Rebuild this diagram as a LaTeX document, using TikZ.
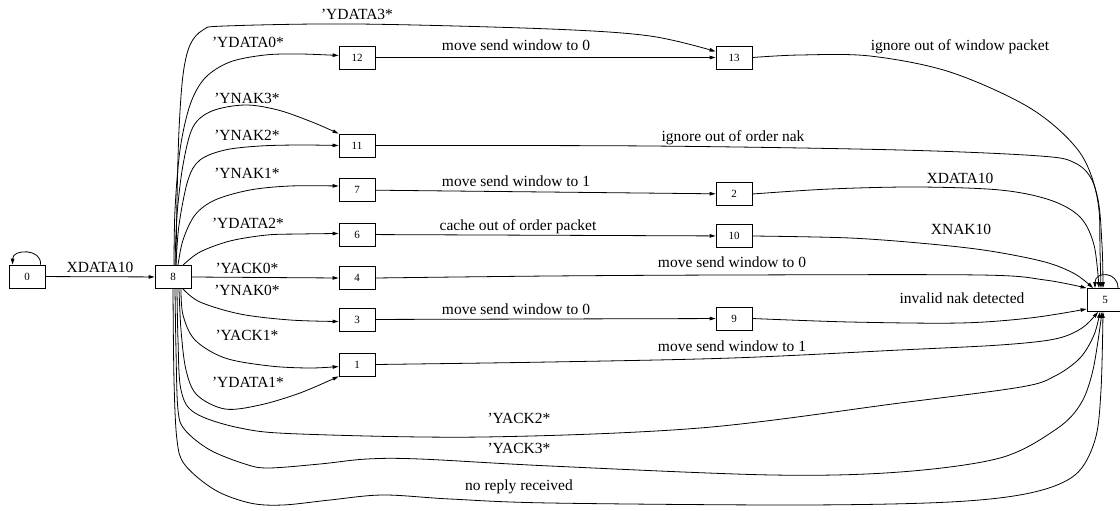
\documentclass[tikz,border=0pt]{standalone}
\usepackage{fontspec}
\setmainfont{Liberation Serif}
\usetikzlibrary{arrows.meta}
\tikzset{
  st/.style={draw, line width=0.8pt, minimum width=36pt, minimum height=23pt, inner sep=0pt, font=\fontsize{11}{12}\selectfont},
  lbl/.style={anchor=base, inner sep=0pt, font=\fontsize{15.5}{17}\selectfont},
  arr/.style={line width=0.8pt, -{Triangle[length=6pt,width=3.5pt]}},
  sm/.style={smooth, tension=0.55}
}
\begin{document}
\begin{tikzpicture}[x=1pt,y=-1pt]
\useasboundingbox (0,0) rectangle (1120,511);
% nodes
\node[st] (n0) at (27,276.5) {0};
\node[st] (n8) at (173,277) {8};
\node[st] (n12) at (357,57.5) {12};
\node[st] (n13) at (734,57.5) {13};
\node[st] (n11) at (357,145.5) {11};
\node[st] (n7) at (357,190) {7};
\node[st] (n2) at (734,194) {2};
\node[st] (n6) at (357,234.5) {6};
\node[st] (n10) at (734,236) {10};
\node[st] (n4) at (357,278) {4};
\node[st] (n3) at (357,319.5) {3};
\node[st] (n9) at (734,318.5) {9};
\node[st] (n1) at (357,364.5) {1};
\node[st] (n5) at (1105,300) {5};
% self loops
\draw[arr] ([xshift=-5pt]n0.north east) .. controls +(2,-16) and +(0,-16) .. ([xshift=4pt]n0.north west);
\draw[arr] ([xshift=13pt]n5.north) .. controls +(0,-17) and +(0,-17) .. ([xshift=-10pt]n5.north);
% straight edges
\draw[arr] (n0) -- (n8);
\draw[arr] (n8.east) -- (n4.west);
\draw[arr] (n12) -- (n13);
\draw[arr] (n7) -- (n2);
\draw[arr] (n6) -- (n10);
\draw[arr] (n3) -- (n9);
% from 8, upwards
\draw[arr] plot[sm] coordinates {([xshift=3pt]n8.north) (177,200) (179,130) (183,75) (190,45) (203,30) (225,26) (357,24) (550,29) (650,36) ([yshift=6pt]n13.west)};
\draw[arr] plot[sm] coordinates {([xshift=1pt]n8.north) (175,210) (180,150) (190,105) (205,78) (230,62) (265,55) (300,54) ([yshift=2pt]n12.west)};
\draw[arr] plot[sm] coordinates {([xshift=2pt]n8.north) (177,215) (183,165) (193,127) (212,111) (245,105) (278,110) (312,122) (n11.north west)};
\draw[arr] plot[sm] coordinates {([xshift=3pt]n8.north) (179,225) (188,180) (200,160) (225,150) (260,146) (300,145) (n11.west)};
\draw[arr] plot[sm] coordinates {([xshift=5pt]n8.north) (183,240) (195,215) (215,200) (250,190) (290,186) ([yshift=4pt]n7.west)};
\draw[arr] plot[sm] coordinates {([xshift=10pt]n8.north) (200,252) (230,241) (267,235) (300,234) ([yshift=1pt]n6.west)};
% from 8, downwards
\draw[arr] plot[sm] coordinates {([xshift=10pt]n8.south) (200,302) (240,314) (290,320) ([yshift=-2pt]n3.west)};
\draw[arr] plot[sm] coordinates {([xshift=8pt]n8.south) (183,315) (195,340) (225,358) (270,366) (310,368) ([yshift=-2pt]n1.west)};
\draw[arr] plot[sm] coordinates {([xshift=6pt]n8.south) (181,330) (186,370) (197,395) (225,409) (260,405) (300,393) (n1.south west)};
\draw[arr] plot[sm] coordinates {([xshift=4pt]n8.south) (178,340) (181,390) (195,413) (240,428) (300,434) (483,437) (700,428) (900,403) (1021,387) (1055,376) (1080,358) (1094,335) ([xshift=-5pt]n5.south)};
\draw[arr] plot[sm] coordinates {([xshift=2pt]n8.south) (176,350) (178,410) (185,430) (210,450) (245,464) (268,468) (320,464) (367,459) (420,459) (550,466) (772,475) (900,472) (1000,458) (1055,430) (1080,405) (1093,370) ([xshift=-3pt]n5.south)};
\draw[arr] plot[sm] coordinates {(n8.south) (174,380) (177,440) (185,465) (215,490) (250,503) (283,505) (330,500) (383,495) (450,499) (550,503) (800,505) (950,502) (1030,493) (1075,475) (1095,440) (1101,390) ([xshift=-2pt]n5.south)};
% into 5
\draw[arr] plot[sm] coordinates {(n13.east) (800,55) (870,56) (950,72) (1030,108) (1078,150) (1097,195) (1102,245) ([xshift=-2pt]n5.north)};
\draw[arr] plot[sm] coordinates {(n11.east) (650,146) (900,150) (1040,156) (1075,163) (1092,180) (1099,210) (1100,250) ([xshift=-4pt]n5.north)};
\draw[arr] plot[sm] coordinates {(n2.east) (830,189) (917,187) (1000,190) (1050,200) (1080,217) (1094,245) ([xshift=-6pt]n5.north)};
\draw[arr] plot[sm] coordinates {(n10.east) (850,238) (930,244) (990,251) (1045,262) (1075,274) ([xshift=-12pt]n5.north)};
\draw[arr] plot[sm] coordinates {(n4.east) (550,276) (732,275) (980,275) (1045,280) (n5.north west)};
\draw[arr] plot[sm] coordinates {(n9.east) (850,322) (960,323) (1030,318) ([yshift=-9pt]n5.west)};
\draw[arr] plot[sm] coordinates {(n1.east) (550,362) (732,358) (900,350) (1000,345) (1055,339) (1082,328) ([xshift=-7pt]n5.south)};
% labels
\node[lbl] (l1) at (100,272) {XDATA10};
\node[lbl] (l2) at (357,20) {'YDATA3*};
\node[lbl] (l3) at (248,48) {'YDATA0*};
\node[lbl] (l4) at (516,51) {move send window to 0};
\node[lbl] (l5) at (960,51) {ignore out of window packet};
\node[lbl] (l6) at (247,103) {'YNAK3*};
\node[lbl] (l7) at (247,140) {'YNAK2*};
\node[lbl] (l8) at (733,141) {ignore out of order nak};
\node[lbl] (l9) at (247,178) {'YNAK1*};
\node[lbl] (l10) at (516,186) {move send window to 1};
\node[lbl] (l11) at (960,183) {XDATA10};
\node[lbl] (l12) at (248,228) {'YDATA2*};
\node[lbl] (l13) at (518,230) {cache out of order packet};
\node[lbl] (l14) at (961,234) {XNAK10};
\node[lbl] (l15) at (247,273) {'YACK0*};
\node[lbl] (l16) at (732,267) {move send window to 0};
\node[lbl] (l17) at (247,295) {'YNAK0*};
\node[lbl] (l18) at (516,314) {move send window to 0};
\node[lbl] (l19) at (962,303) {invalid nak detected};
\node[lbl] (l20) at (247,340) {'YACK1*};
\node[lbl] (l21) at (732,351) {move send window to 1};
\node[lbl] (l22) at (248,387) {'YDATA1*};
\node[lbl] (l23) at (519,423) {'YACK2*};
\node[lbl] (l24) at (519,453) {'YACK3*};
\node[lbl] (l25) at (519,490) {no reply received};
\end{tikzpicture}
\end{document}
